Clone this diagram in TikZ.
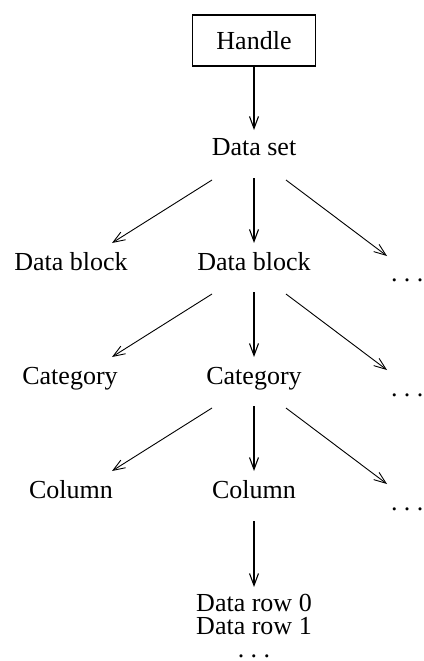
\documentclass[tikz,border=0pt]{standalone}
\usepackage{fontspec}
\setmainfont{Liberation Serif}
\usetikzlibrary{arrows.meta}
\newcommand{\mydots}{.\hspace{6.3pt}.\hspace{6.3pt}.}
\begin{document}
\begin{tikzpicture}[x=1pt,y=-1pt,
  lbl/.style={anchor=base,inner sep=0pt,font=\fontsize{26}{30}\selectfont},
  dots/.style={anchor=base west,inner sep=0pt,font=\fontsize{26}{30}\selectfont},
  vlink/.style={line width=1.6pt,-{Straight Barb[length=12pt,width=9pt,line width=1.1pt]}},
  dlink/.style={line width=0.9pt,-{Straight Barb[length=12pt,width=9pt,line width=0.9pt]}},
  box/.style={draw,line width=1.8pt,minimum width=123pt,minimum height=51pt,inner sep=0pt,font=\fontsize{26}{30}\selectfont}]
\useasboundingbox (0,0) rectangle (423,661);
% nodes
\node[box] (h) at (254,40.5) {Handle};
\node[lbl] (ds) at (254,155) {Data set};
\node[lbl] (db1) at (71,270) {Data block};
\node[lbl] (db2) at (254,270) {Data block};
\node[dots] (dd) at (391,281) {\mydots};
\node[lbl] (c1) at (70,384) {Category};
\node[lbl] (c2) at (254,384) {Category};
\node[dots] (cd) at (391,396) {\mydots};
\node[lbl] (k1) at (71,498) {Column};
\node[lbl] (k2) at (254,498) {Column};
\node[dots] (kd) at (391,510) {\mydots};
\node[lbl] (r0) at (254,611) {Data row 0};
\node[lbl] (r1) at (254,634) {Data row 1};
\node[dots,anchor=base] (rd) at (254,657) {\mydots};
% connector ends
\coordinate (hA) at (254,130);
\coordinate (s1) at (212,180); \coordinate (t1) at (112,243);
\coordinate (s2) at (254,178); \coordinate (t2) at (254,243);
\coordinate (s3) at (286,180); \coordinate (t3) at (387,256);
\coordinate (u1) at (212,294); \coordinate (v1) at (112,357);
\coordinate (u2) at (254,292); \coordinate (v2) at (254,357);
\coordinate (u3) at (286,294); \coordinate (v3) at (387,370);
\coordinate (w1) at (212,408); \coordinate (x1) at (112,471);
\coordinate (w2) at (254,406); \coordinate (x2) at (254,471);
\coordinate (w3) at (286,408); \coordinate (x3) at (387,484);
\coordinate (y0) at (254,521); \coordinate (z0) at (254,587);
% connectors
\draw[vlink] (h.south) -- (hA);
\draw[dlink] (s1) -- (t1);
\draw[vlink] (s2) -- (t2);
\draw[dlink] (s3) -- (t3);
\draw[dlink] (u1) -- (v1);
\draw[vlink] (u2) -- (v2);
\draw[dlink] (u3) -- (v3);
\draw[dlink] (w1) -- (x1);
\draw[vlink] (w2) -- (x2);
\draw[dlink] (w3) -- (x3);
\draw[vlink] (y0) -- (z0);
\end{tikzpicture}
\end{document}
